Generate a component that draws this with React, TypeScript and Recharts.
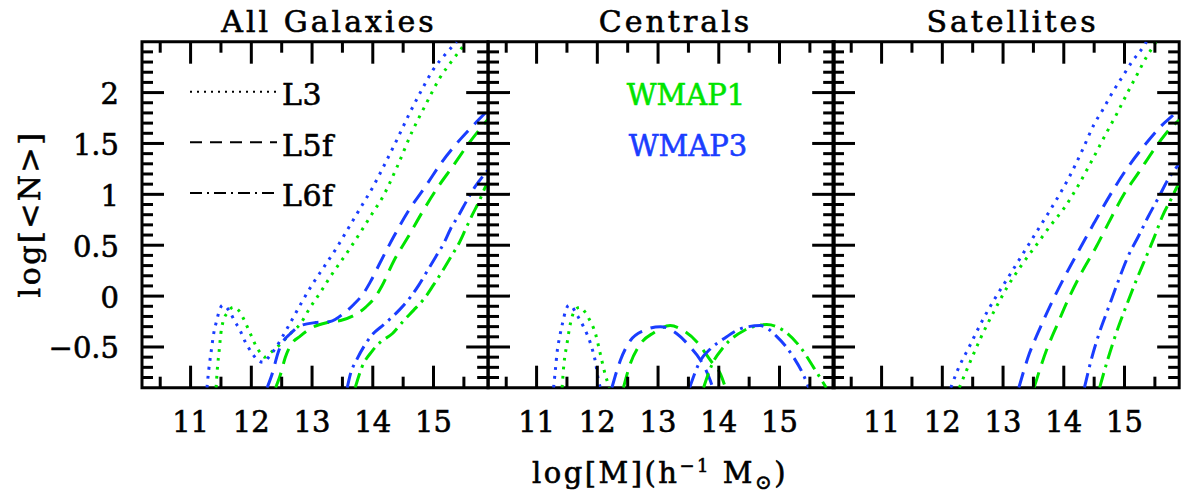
import { LineChart, Line, XAxis, YAxis, ReferenceArea } from 'recharts'

const GREEN = '#00e400'
const BLUE = '#1a3dff'
const FONT = '"DejaVu Serif", "Liberation Serif", serif'

// line styles for the three luminosity thresholds
const DOT = '2.8 6.2'
const DASH = '16 9'
const DASHDOT = '15 6 2.8 6'

const PLOT_TOP = 41.7
const PLOT_H = 346
const PLOT_W = 346.2
const YW = 142
const X_DOMAIN = [10.2, 15.9]
const Y_DOMAIN = [-0.9, 2.5]

const panelLefts = [141.7, 487.5, 833.4]
const panelTitles = ['All Galaxies', 'Centrals', 'Satellites']
const titleCenters = [329, 675.5, 1012.5]

const xTicks = [10.5, 11, 11.5, 12, 12.5, 13, 13.5, 14, 14.5, 15, 15.5]
const yTicks = [
  -0.8, -0.7, -0.6, -0.5, -0.4, -0.3, -0.2, -0.1, 0, 0.1, 0.2, 0.3, 0.4, 0.5, 0.6, 0.7, 0.8, 0.9, 1, 1.1, 1.2,
  1.3, 1.4, 1.5, 1.6, 1.7, 1.8, 1.9, 2, 2.1, 2.2, 2.3, 2.4,
]

// log M, log <N>
// All galaxies
const allL3W1 = [
  [11.42, -0.9], [11.44, -0.72], [11.47, -0.54], [11.5, -0.36], [11.53, -0.26], [11.61, -0.16], [11.7, -0.11],
  [11.79, -0.14], [11.87, -0.22], [11.94, -0.31], [12.0, -0.39], [12.06, -0.47], [12.14, -0.55], [12.22, -0.6],
  [12.31, -0.56], [12.48, -0.47], [12.64, -0.37], [12.81, -0.27], [12.96, -0.12], [13.14, 0.04], [13.3, 0.19],
  [13.58, 0.43], [13.8, 0.63], [14.0, 0.82], [14.15, 0.96], [14.4, 1.27], [14.65, 1.62], [14.87, 1.88],
  [15.1, 2.14], [15.3, 2.31], [15.5, 2.47], [15.53, 2.5],
]
const allL3W3 = [
  [11.27, -0.9], [11.3, -0.72], [11.34, -0.54], [11.38, -0.37], [11.43, -0.24], [11.48, -0.13], [11.53, -0.09],
  [11.59, -0.11], [11.65, -0.16], [11.73, -0.25], [11.81, -0.33], [11.9, -0.45], [12.0, -0.55], [12.09, -0.62],
  [12.19, -0.65], [12.3, -0.59], [12.4, -0.51], [12.55, -0.36], [12.7, -0.2], [12.85, -0.04], [13.01, 0.12],
  [13.2, 0.29], [13.4, 0.47], [13.6, 0.67], [13.8, 0.87], [14.0, 1.07], [14.2, 1.3], [14.4, 1.54], [14.6, 1.79],
  [14.8, 2.02], [15.0, 2.23], [15.2, 2.38], [15.38, 2.5],
]
const allL5W1 = [
  [12.4, -0.9], [12.48, -0.77], [12.56, -0.6], [12.64, -0.49], [12.81, -0.39], [13.0, -0.31], [13.25, -0.26],
  [13.47, -0.24], [13.69, -0.19], [13.88, -0.11], [14.04, -0.01], [14.15, 0.1], [14.35, 0.35], [14.58, 0.58],
  [14.81, 0.82], [15.06, 1.06], [15.31, 1.27], [15.58, 1.5], [15.9, 1.74],
]
const allL5W3 = [
  [12.26, -0.9], [12.34, -0.77], [12.45, -0.54], [12.53, -0.44], [12.64, -0.37], [12.81, -0.29], [13.06, -0.26],
  [13.3, -0.25], [13.52, -0.17], [13.69, -0.08], [13.85, 0.03], [13.96, 0.14], [14.13, 0.34], [14.35, 0.59],
  [14.59, 0.84], [14.87, 1.08], [15.14, 1.32], [15.44, 1.54], [15.77, 1.75], [15.9, 1.83],
]
const allL6W1 = [
  [13.71, -0.9], [13.82, -0.7], [13.99, -0.54], [14.13, -0.45], [14.32, -0.37], [14.51, -0.24], [14.67, -0.14],
  [14.84, -0.03], [15.0, 0.11], [15.14, 0.24], [15.28, 0.38], [15.42, 0.52], [15.53, 0.66], [15.64, 0.8],
  [15.75, 0.93], [15.86, 1.08], [15.9, 1.12],
]
const allL6W3 = [
  [13.58, -0.9], [13.63, -0.77], [13.74, -0.62], [13.88, -0.47], [13.99, -0.38], [14.18, -0.28], [14.43, -0.14],
  [14.62, -0.01], [14.76, 0.11], [14.9, 0.25], [15.03, 0.38], [15.17, 0.52], [15.28, 0.66], [15.42, 0.8],
  [15.54, 0.93], [15.69, 1.08], [15.83, 1.19], [15.9, 1.24],
]

// Centrals
const cenL3W1 = [
  [11.42, -0.9], [11.45, -0.67], [11.5, -0.47], [11.56, -0.26], [11.63, -0.14], [11.71, -0.11], [11.79, -0.15],
  [11.86, -0.22], [11.97, -0.37], [12.05, -0.57], [12.13, -0.77], [12.2, -0.9],
]
const cenL3W3 = [
  [11.28, -0.9], [11.31, -0.72], [11.34, -0.54], [11.38, -0.4], [11.43, -0.26], [11.48, -0.14], [11.53, -0.09],
  [11.59, -0.11], [11.65, -0.17], [11.78, -0.31], [11.89, -0.47], [11.97, -0.65], [12.02, -0.83], [12.05, -0.9],
]
const cenL5W1 = [
  [12.43, -0.9], [12.54, -0.67], [12.71, -0.47], [12.93, -0.36], [13.2, -0.29], [13.42, -0.34], [13.64, -0.45],
  [13.86, -0.63], [14.03, -0.77], [14.11, -0.9],
]
const cenL5W3 = [
  [12.24, -0.9], [12.38, -0.63], [12.54, -0.44], [12.76, -0.34], [13.04, -0.3], [13.31, -0.37], [13.53, -0.5],
  [13.7, -0.63], [13.86, -0.83], [13.9, -0.9],
]
const cenL6W1 = [
  [13.75, -0.9], [13.89, -0.67], [14.08, -0.5], [14.41, -0.34], [14.79, -0.28], [15.07, -0.34], [15.34, -0.5],
  [15.56, -0.7], [15.77, -0.9],
]
const cenL6W3 = [
  [13.52, -0.9], [13.7, -0.63], [13.86, -0.52], [14.08, -0.42], [14.41, -0.31], [14.68, -0.29], [14.96, -0.4],
  [15.23, -0.6], [15.39, -0.77], [15.48, -0.9],
]

// Satellites
const satL3W1 = [
  [12.28, -0.9], [12.47, -0.63], [12.64, -0.4], [12.86, -0.14], [13.07, 0.09], [13.3, 0.3], [13.57, 0.52],
  [13.79, 0.7], [14.0, 0.86], [14.25, 1.1], [14.47, 1.34], [14.69, 1.59], [14.88, 1.8], [15.05, 2.0],
  [15.21, 2.18], [15.37, 2.36], [15.48, 2.46], [15.52, 2.5],
]
const satL3W3 = [
  [12.14, -0.9], [12.25, -0.73], [12.45, -0.49], [12.66, -0.24], [12.88, -0.01], [13.07, 0.17], [13.3, 0.39],
  [13.54, 0.62], [13.75, 0.82], [13.95, 1.02], [14.09, 1.17], [14.31, 1.44], [14.5, 1.69], [14.64, 1.83],
  [14.8, 2.0], [14.97, 2.16], [15.13, 2.31], [15.32, 2.46], [15.36, 2.5],
]
const satL5W1 = [
  [13.51, -0.9], [13.71, -0.54], [13.9, -0.27], [14.09, -0.01], [14.31, 0.25], [14.53, 0.48], [14.72, 0.7],
  [15.0, 1.01], [15.24, 1.22], [15.52, 1.47], [15.79, 1.67], [15.9, 1.73],
]
const satL5W3 = [
  [13.26, -0.9], [13.43, -0.57], [13.59, -0.34], [13.82, -0.04], [14.04, 0.22], [14.25, 0.45], [14.5, 0.72],
  [14.75, 0.98], [14.99, 1.21], [15.3, 1.46], [15.6, 1.67], [15.87, 1.82], [15.9, 1.84],
]
const satL6W1 = [
  [14.59, -0.9], [14.72, -0.63], [14.86, -0.37], [15.02, -0.11], [15.19, 0.15], [15.38, 0.42], [15.49, 0.58],
  [15.62, 0.78], [15.79, 0.98], [15.87, 1.08], [15.9, 1.11],
]
const satL6W3 = [
  [14.34, -0.9], [14.45, -0.63], [14.58, -0.37], [14.72, -0.14], [14.88, 0.12], [15.05, 0.38], [15.24, 0.6],
  [15.38, 0.77], [15.57, 0.98], [15.73, 1.16], [15.9, 1.3],
]

const pts = (a: number[][]) => a.map(([m, y]) => ({ m, y }))

const makeSeries = (l3w1, l3w3, l5w1, l5w3, l6w1, l6w3) => [
  { data: pts(l3w1), color: GREEN, dash: DOT },
  { data: pts(l3w3), color: BLUE, dash: DOT },
  { data: pts(l5w1), color: GREEN, dash: DASH },
  { data: pts(l5w3), color: BLUE, dash: DASH },
  { data: pts(l6w1), color: GREEN, dash: DASHDOT },
  { data: pts(l6w3), color: BLUE, dash: DASHDOT },
]

const panels = [
  makeSeries(allL3W1, allL3W3, allL5W1, allL5W3, allL6W1, allL6W3),
  makeSeries(cenL3W1, cenL3W3, cenL5W1, cenL5W3, cenL6W1, cenL6W3),
  makeSeries(satL3W1, satL3W3, satL5W1, satL5W3, satL6W1, satL6W3),
]

const legendItems = [
  { label: 'L3', dash: '2 5' },
  { label: 'L5f', dash: '12 8' },
  { label: 'L6f', dash: '12 5 2 5' },
]

const fmtY = (v: number) => (v < 0 ? `\u2212${Math.abs(v)}` : `${v}`)

// heavier strokes for the plot lettering
const TEXT_STROKE = { stroke: 'currentColor', strokeWidth: 0.6 }

// inward ticks on bottom and top, labels below
const XTick = ({ x, y, payload }) => {
  const major = Number.isInteger(payload.value)
  const len = major ? 22 : 11
  return (
    <g>
      <line x1={x} x2={x} y1={y} y2={y - len} stroke="#000" strokeWidth={3} />
      <line x1={x} x2={x} y1={y - PLOT_H} y2={y - PLOT_H + len} stroke="#000" strokeWidth={3} />
      {major && (
        <text x={x} y={y + 44} textAnchor="middle" fontSize={29} fontFamily={FONT} fill="#000" color="#000" {...TEXT_STROKE}>
          {payload.value}
        </text>
      )}
    </g>
  )
}

// inward ticks on left and right, labels only on the first panel
const YTick = ({ x, y, payload, showLabel }) => {
  const v = payload.value
  const major = Math.abs(v * 2 - Math.round(v * 2)) < 1e-6
  const len = major ? 22 : 11
  return (
    <g>
      <line x1={x} x2={x + len} y1={y} y2={y} stroke="#000" strokeWidth={3} />
      <line x1={x + PLOT_W} x2={x + PLOT_W - len} y1={y} y2={y} stroke="#000" strokeWidth={3} />
      {showLabel && major && (
        <text x={x - 23} y={y + 11.5} textAnchor="end" fontSize={29} fontFamily={FONT} fill="#000" color="#000" {...TEXT_STROKE}>
          {fmtY(v)}
        </text>
      )}
    </g>
  )
}

const Panel = ({ left, series, showY }) => (
  <div style={{ position: 'absolute', left: left - YW, top: 0 }}>
    <LineChart
      width={YW + PLOT_W + 4}
      height={PLOT_TOP + PLOT_H + 60}
      margin={{ top: PLOT_TOP, right: 4, bottom: 0, left: 0 }}
    >
      <XAxis
        dataKey="m"
        type="number"
        domain={X_DOMAIN}
        ticks={xTicks}
        interval={0}
        allowDataOverflow
        axisLine={false}
        tickLine={false}
        tickSize={0}
        tickMargin={0}
        height={60}
        tick={(p) => <XTick {...p} />}
      />
      <YAxis
        type="number"
        domain={Y_DOMAIN}
        ticks={yTicks}
        interval={0}
        allowDataOverflow
        axisLine={false}
        tickLine={false}
        tickSize={0}
        tickMargin={0}
        width={YW}
        tick={(p) => <YTick {...p} showLabel={showY} />}
      />
      <ReferenceArea x1={X_DOMAIN[0]} x2={X_DOMAIN[1]} y1={Y_DOMAIN[0]} y2={Y_DOMAIN[1]} fill="none" stroke="#000" strokeWidth={3} />
      {series.map((s, i) => (
        <Line
          key={i}
          data={s.data}
          dataKey="y"
          type="monotone"
          stroke={s.color}
          strokeWidth={3}
          strokeDasharray={s.dash}
          dot={false}
          activeDot={false}
          isAnimationActive={false}
        />
      ))}
    </LineChart>
  </div>
)

export default function App() {
  return (
    <div style={{ position: 'absolute', left: 0, top: 0, width: 1182, height: 501, background: '#fff', overflow: 'hidden' }}>
      {panels.map((series, i) => (
        <Panel key={i} left={panelLefts[i]} series={series} showY={i === 0} />
      ))}
      <svg width={1182} height={501} style={{ position: 'absolute', left: 0, top: 0, pointerEvents: 'none' }}>
        <g fontFamily={FONT} fill="#000" color="#000" {...TEXT_STROKE}>
          {panelTitles.map((t, i) => (
            <text key={t} x={titleCenters[i]} y={31.7} textAnchor="middle" fontSize={30} letterSpacing={3}>
              {t}
            </text>
          ))}
          <text transform="translate(40,214) rotate(-90)" textAnchor="middle" fontSize={30} letterSpacing={2.5}>
            log[&lt;N&gt;]
          </text>
          <text x={660} y={483} textAnchor="middle" fontSize={29} letterSpacing={2.5}>
            log[M](h
            <tspan dy={-11} fontSize={18}>
              {'\u22121'}
            </tspan>
            <tspan dy={11}> M</tspan>
            <tspan dy={6} fontSize={20}>
              {'\u2299'}
            </tspan>
            <tspan dy={-6}>)</tspan>
          </text>
          {legendItems.map((it, i) => (
            <g key={it.label}>
              <line x1={190} x2={277} y1={91.7 + i * 50.65} y2={91.7 + i * 50.65} stroke="#000" strokeWidth={2} strokeDasharray={it.dash} />
              <text x={282} y={105 + i * 50.65} fontSize={30} letterSpacing={0.5}>
                {it.label}
              </text>
            </g>
          ))}
          <text x={686} y={105} textAnchor="middle" fontSize={29} fill={GREEN} color={GREEN}>
            WMAP1
          </text>
          <text x={688} y={155.5} textAnchor="middle" fontSize={29} fill={BLUE} color={BLUE}>
            WMAP3
          </text>
        </g>
      </svg>
    </div>
  )
}
